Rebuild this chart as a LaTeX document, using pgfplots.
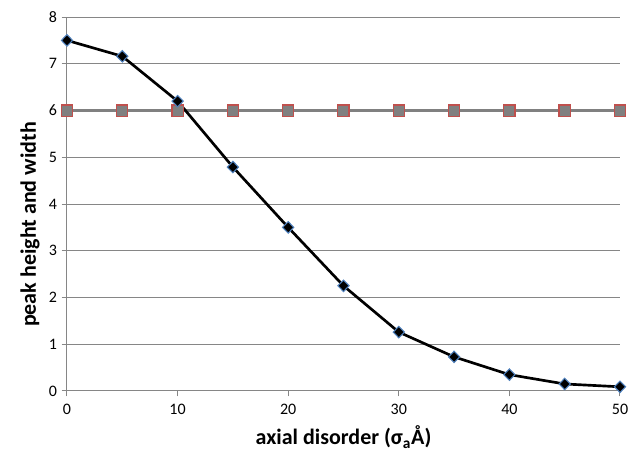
\documentclass[border=0pt]{standalone}
\usepackage{fontspec}
\setmainfont{Carlito}
\usepackage{pgfplots}
\pgfplotsset{compat=1.18}
\definecolor{gridgray}{RGB}{134,134,134}
\definecolor{sqgray}{RGB}{128,128,128}
\definecolor{sqred}{RGB}{192,80,77}
\definecolor{dblue}{RGB}{79,129,189}
\begin{document}
\begin{tikzpicture}
\begin{axis}[
  at={(0,0)}, anchor=south west,
  scale only axis,
  width=414.75pt, height=280.5pt,
  xmin=0, xmax=50, ymin=0, ymax=8,
  xtick={0,10,...,50}, ytick={0,1,...,8},
  axis lines=left,
  axis line style={gridgray, line width=0.75pt, -},
  tick style={gridgray, line width=0.75pt},
  tick align=outside,
  major tick length=4pt,
  ymajorgrids,
  grid style={gridgray, line width=0.75pt},
  xtick style={draw=gridgray},
  ytick style={draw=gridgray},
  /pgf/number format/assume math mode=true,
  tick label style={font=\fontsize{12}{14}\selectfont, black},
  xticklabel style={yshift=-2pt},
  xlabel={\textbf{axial disorder (σ\textsubscript{a}Å)}},
  ylabel={\textbf{peak height and width}},
  label style={font=\fontsize{16.5}{19}\selectfont},
  xlabel style={yshift=-2pt},
  ylabel style={at={(ticklabel cs:0.445)}},
  clip=false,
]
\addplot[sqgray, line width=2.4pt, mark=square*, mark size=4.2pt,
  mark options={fill=sqgray, draw=sqred, line width=0.9pt}]
  coordinates {(0,6) (5,6) (10,6) (15,6) (20,6) (25,6) (30,6) (35,6) (40,6) (45,6) (50,6)};
\addplot[black, line width=2pt, mark=diamond*, mark size=4.3pt,
  mark options={fill=black, draw=dblue, line width=0.8pt, xscale=1.3}]
  coordinates {(0,7.5) (5,7.16) (10,6.2) (15,4.79) (20,3.5) (25,2.25) (30,1.26) (35,0.73) (40,0.35) (45,0.15) (50,0.09)};
\end{axis}
\path[use as bounding box] (-50.25pt,-47.25pt) rectangle (427.5pt,293.25pt);
\end{tikzpicture}
\end{document}
